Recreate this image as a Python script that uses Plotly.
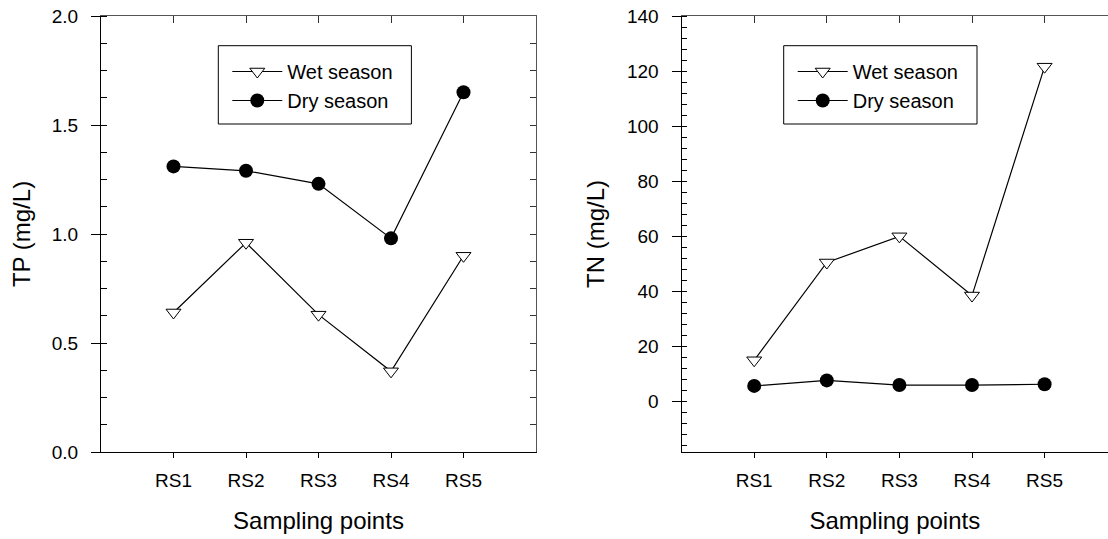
import plotly.graph_objects as go

categories = ["RS1", "RS2", "RS3", "RS4", "RS5"]
tp_wet = [0.64, 0.96, 0.63, 0.37, 0.90]
tp_dry = [1.31, 1.29, 1.23, 0.98, 1.65]
tn_wet = [15.0, 50.5, 60.0, 38.5, 121.6]
tn_dry = [5.7, 7.7, 6.0, 6.0, 6.3]

xpos = list(range(len(categories)))
FONT = "Liberation Sans, Arial, sans-serif"

fig = go.Figure()

wet_marker = dict(symbol="triangle-down", size=13, color="white",
                  line=dict(color="black", width=1))
dry_marker = dict(symbol="circle", size=14, color="black",
                  line=dict(color="black", width=0))
line_style = dict(color="black", width=1.2)

# Left panel
fig.add_trace(go.Scatter(x=xpos, y=tp_wet, mode="lines+markers", name="Wet season",
                         line=line_style, marker=wet_marker, xaxis="x", yaxis="y",
                         legend="legend"))
fig.add_trace(go.Scatter(x=xpos, y=tp_dry, mode="lines+markers", name="Dry season",
                         line=line_style, marker=dry_marker, xaxis="x", yaxis="y",
                         legend="legend"))
# Right panel
fig.add_trace(go.Scatter(x=xpos, y=tn_wet, mode="lines+markers", name="Wet season",
                         line=line_style, marker=wet_marker, xaxis="x2", yaxis="y2",
                         legend="legend2"))
fig.add_trace(go.Scatter(x=xpos, y=tn_dry, mode="lines+markers", name="Dry season",
                         line=line_style, marker=dry_marker, xaxis="x2", yaxis="y2",
                         legend="legend2"))

# invisible traces to activate mirror axes (top / right inward ticks)
fig.add_trace(go.Scatter(x=xpos, y=tp_dry, mode="lines", opacity=0, showlegend=False,
                         hoverinfo="skip", xaxis="x3", yaxis="y3"))
fig.add_trace(go.Scatter(x=xpos, y=tn_dry, mode="lines", opacity=0, showlegend=False,
                         hoverinfo="skip", xaxis="x4", yaxis="y2"))

W, H = 1108, 539
ML, MR, MT, MB = 101, 0, 16, 87
PW = W - ML - MR
PH = H - MT - MB


def px_x(v):
    return (v - ML) / PW


def px_y(v):
    return (H - MB - v) / PH


left_dom = [0, px_x(536)]
right_dom = [px_x(681.6), 1.0]
right_xmax = -1 + (W - 681.6) / 72.6

tick_font = dict(family=FONT, size=19, color="black")
title_font = dict(family=FONT, size=24, color="black")

common_x = dict(tickmode="array", tickvals=xpos, ticktext=categories,
                ticks="outside", ticklen=5, tickwidth=1, tickcolor="black",
                showline=True, linecolor="black", linewidth=1.2,
                showgrid=False, zeroline=False, tickfont=tick_font,
                ticklabelstandoff=6)

legend_common = dict(xanchor="left", yanchor="top", borderwidth=0,
                     bgcolor="rgba(0,0,0,0)",
                     font=dict(family=FONT, size=20, color="black"),
                     itemwidth=50, tracegroupgap=0, indentation=9)

# legend frames (left panel, right panel)
legend_boxes = [(218.3, 411.4), (783.7, 977.0)]
shapes = [dict(type="rect", xref="paper", yref="paper",
               x0=px_x(a), x1=px_x(b), y0=px_y(124), y1=px_y(45.7),
               line=dict(color="black", width=1), fillcolor="white", layer="below")
          for a, b in legend_boxes]

fig.update_layout(
    width=W, height=H,
    margin=dict(l=ML, r=MR, t=MT, b=MB),
    paper_bgcolor="white", plot_bgcolor="white",
    font=dict(family=FONT, color="black"),
    shapes=shapes,
    xaxis=dict(domain=left_dom, range=[-1, 5], anchor="y",
               title=dict(text="Sampling points", font=title_font, standoff=22),
               **common_x),
    yaxis=dict(domain=[0, 1], range=[0, 2.0], anchor="x", dtick=0.5, tick0=0,
               tickformat=".1f", ticks="outside", ticklen=9, tickwidth=1,
               tickcolor="black", showline=True, linecolor="black", linewidth=1.2,
               showgrid=False, zeroline=False, tickfont=tick_font,
               ticklabelstandoff=9,
               minor=dict(dtick=0.125, tick0=0, ticks="inside", ticklen=6,
                          tickcolor="black", showgrid=False),
               title=dict(text="TP (mg/L)", font=title_font, standoff=14)),
    xaxis3=dict(overlaying="x", side="top", anchor="y3", range=[-1, 5],
                tickmode="array", tickvals=xpos, ticks="inside", ticklen=7,
                tickcolor="#333", showticklabels=False, showline=True,
                linecolor="#555", linewidth=1, showgrid=False, zeroline=False),
    yaxis3=dict(overlaying="y", side="right", anchor="x3", range=[0, 2.0],
                dtick=0.125, tick0=0, ticks="inside", ticklen=6, tickcolor="#333",
                showticklabels=False, showline=True, linecolor="#555", linewidth=1,
                showgrid=False, zeroline=False),
    xaxis2=dict(domain=right_dom, range=[-1, right_xmax], anchor="y2",
                title=dict(text="Sampling points", font=title_font, standoff=22),
                **common_x),
    yaxis2=dict(domain=[0, 1], range=[-18.3, 140], anchor="x2", dtick=20, tick0=0,
                ticks="outside", ticklen=9, tickwidth=1, tickcolor="black",
                showline=True, linecolor="black", linewidth=1.2,
                showgrid=False, zeroline=False, tickfont=tick_font,
                ticklabelstandoff=9,
                minor=dict(dtick=4, tick0=0, ticks="inside", ticklen=5,
                           tickcolor="black", showgrid=False),
                title=dict(text="TN (mg/L)", font=title_font, standoff=15)),
    xaxis4=dict(overlaying="x2", side="top", anchor="y2", range=[-1, right_xmax],
                tickmode="array", tickvals=xpos, ticks="inside", ticklen=7,
                tickcolor="#333", showticklabels=False, showline=True,
                linecolor="#555", linewidth=1, showgrid=False, zeroline=False),
    legend=dict(x=px_x(218.3), y=px_y(52), **legend_common),
    legend2=dict(x=px_x(783.7), y=px_y(52), **legend_common),
)

fig.write_html("out.html")
